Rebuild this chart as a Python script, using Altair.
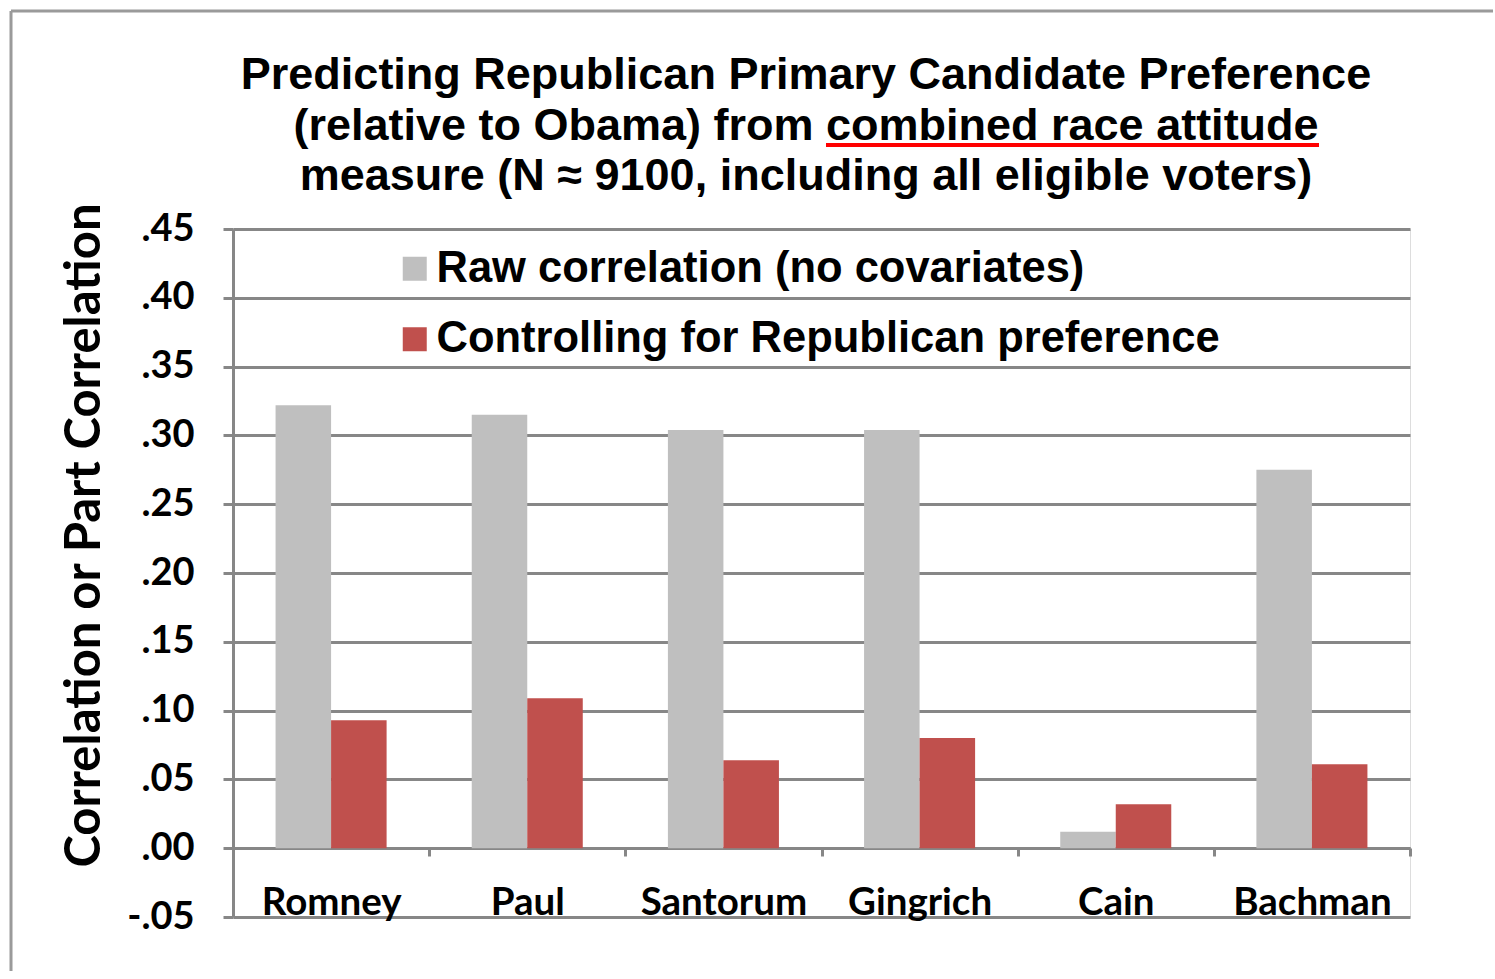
import altair as alt
import pandas as pd

# Candidates and the two correlation series
candidates = ["Romney", "Paul", "Santorum", "Gingrich", "Cain", "Bachman"]
raw_corr = [0.322, 0.315, 0.304, 0.304, 0.012, 0.275]
part_corr = [0.093, 0.109, 0.064, 0.080, 0.032, 0.061]
series_names = ["Raw correlation (no covariates)", "Controlling for Republican preference"]
series_colors = ["#BFBFBF", "#C0504D"]
y_ticks = [-0.05, 0.0, 0.05, 0.10, 0.15, 0.20, 0.25, 0.30, 0.35, 0.40, 0.45]
title_lines = [
    "Predicting Republican Primary Candidate Preference",
    "(relative to Obama) from combined race attitude",
    "measure (N \u2248 9100, including all eligible voters)",
]

rows = []
for cand, r, p in zip(candidates, raw_corr, part_corr):
    rows.append({"candidate": cand, "series": series_names[0], "value": r})
    rows.append({"candidate": cand, "series": series_names[1], "value": p})
df = pd.DataFrame(rows)

W, H = 1177, 688
STEP = W / len(candidates)
GRID = "#878787"

bars = alt.Chart(df).mark_bar().encode(
    x=alt.X(
        "candidate:N",
        sort=candidates,
        scale=alt.Scale(paddingInner=0.434, paddingOuter=0.217),
        axis=alt.Axis(
            title=None, labelAngle=0, offset=-69, grid=False,
            # ticks sit on the boundaries between categories, labels stay centred
            tickOffset=STEP / 2, labelOffset=-STEP / 2,
            domainColor=GRID, domainWidth=3, tickColor=GRID, tickWidth=3, tickSize=8,
            labelFont="Lato", labelFontSize=38.5, labelFontWeight="bold", labelColor="black",
            labelBaseline="alphabetic", labelPadding=58,
        ),
    ),
    xOffset=alt.XOffset("series:N", sort=series_names),
    y=alt.Y(
        "value:Q",
        scale=alt.Scale(domain=[-0.05, 0.45], nice=False, zero=False),
        axis=alt.Axis(
            values=y_ticks,
            labelExpr="(datum.value < 0 ? '-' : '') + replace(format(abs(datum.value), '.2f'), '0.', '.')",
            grid=True, gridColor=GRID, gridWidth=3,
            domainColor=GRID, domainWidth=3, tickColor=GRID, tickWidth=3, tickSize=10,
            labelFont="Lato", labelFontSize=38, labelFontWeight="bold", labelColor="black",
            labelPadding=29,
            title="Correlation or Part Correlation",
            titleFont="Lato", titleFontSize=49, titleFontWeight="bold", titleColor="black",
            titleAngle=270, titleX=-149, titleY=306, titleAlign="center", titleBaseline="middle",
        ),
    ),
    color=alt.Color(
        "series:N",
        scale=alt.Scale(domain=series_names, range=series_colors),
        legend=alt.Legend(
            title=None, orient="none", legendX=160, legendY=18,
            symbolType="square", symbolSize=576, symbolStrokeWidth=0, symbolOpacity=1,
            labelFont="Liberation Sans", labelFontSize=43.5, labelFontWeight="bold",
            labelColor="black", labelOffset=0, rowPadding=25.5, labelLimit=1200,
        ),
    ),
)

one = pd.DataFrame({"k": [0]})

# Outer frame of the chart (top and left edges)
frame_top = alt.Chart(one).mark_rule(color="#9A9A9A", strokeWidth=3).encode(
    x=alt.value(-222), x2=alt.value(1260), y=alt.value(-218)
)
frame_left = alt.Chart(one).mark_rule(color="#9A9A9A", strokeWidth=3).encode(
    x=alt.value(-222), y=alt.value(-218), y2=alt.value(742)
)

# Three-line heading, centred over the plot
heading_baselines = [-140, -89, -39]
heading = [
    alt.Chart(one).mark_text(
        text=line, font="Liberation Sans", fontSize=45, fontWeight="bold",
        color="black", align="center", baseline="alphabetic",
    ).encode(x=alt.value(573), y=alt.value(yb))
    for line, yb in zip(title_lines, heading_baselines)
]

# Red underline beneath "combined race attitude"
underline = alt.Chart(one).mark_rule(color="#FF0000", strokeWidth=4).encode(
    x=alt.value(593), x2=alt.value(1086), y=alt.value(-84)
)

chart = alt.layer(bars, frame_top, frame_left, *heading, underline).properties(
    width=W,
    height=H,
    padding={"left": 9, "top": 9, "right": 0, "bottom": 0},
).configure_view(stroke="transparent", strokeWidth=0).configure(background="white")

chart.save("out.html", embed_options={"renderer": "svg", "actions": False})
